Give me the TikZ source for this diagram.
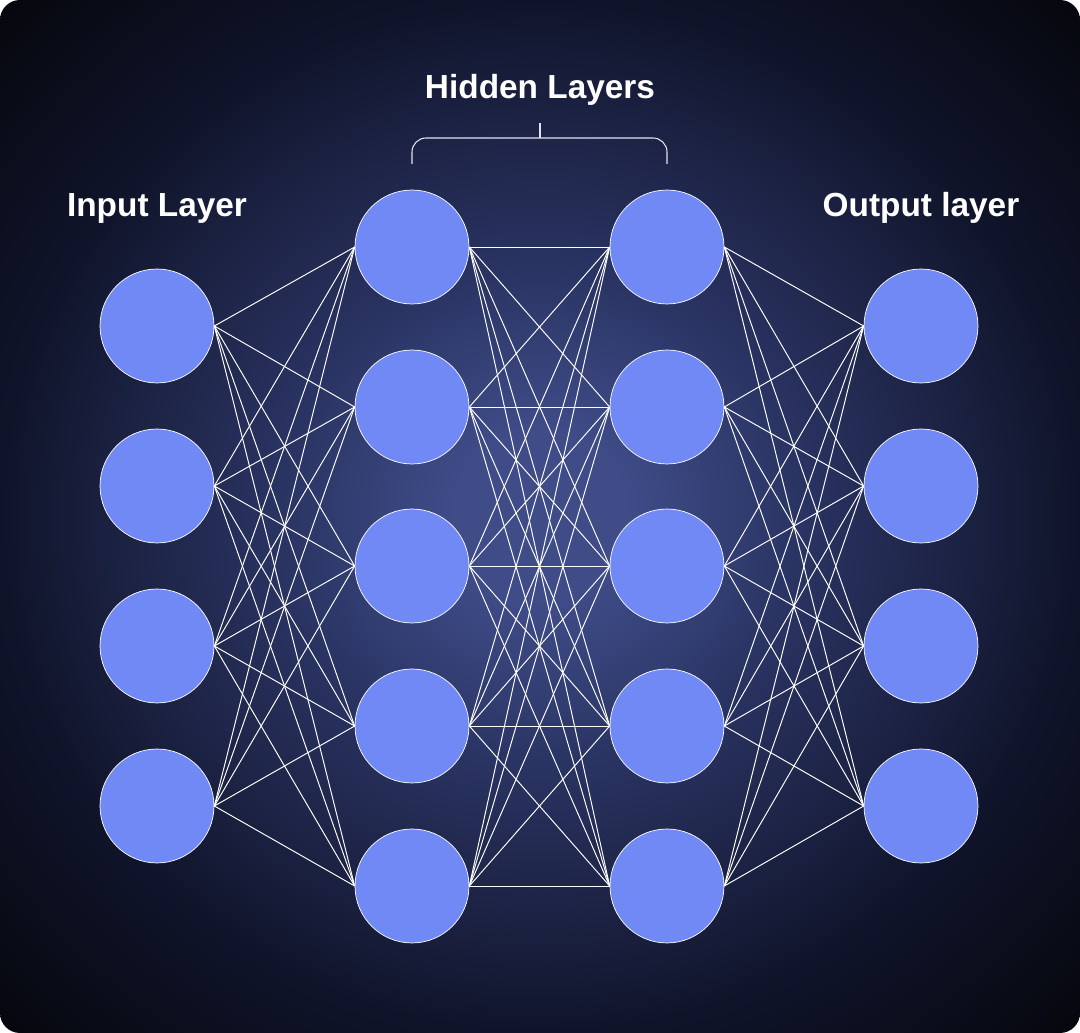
\documentclass[tikz,border=0pt]{standalone}
\usepackage{fontspec}
\setmainfont{Liberation Sans}
\definecolor{bgin}{HTML}{3F4C88}
\definecolor{bgmid}{HTML}{2A3463}
\definecolor{bgedge}{HTML}{10142A}
\definecolor{bgout}{HTML}{05060B}
\definecolor{neuron}{HTML}{7189F5}
\pgfdeclareradialshading{bgglow}{\pgfpoint{0bp}{0bp}}{color(0bp)=(bgin); color(4bp)=(bgin); color(12bp)=(bgmid); color(25bp)=(bgedge); color(36bp)=(bgout); color(50bp)=(bgout)}
\begin{document}
\begin{tikzpicture}[x=0.02cm, y=-0.02cm,
    every node/.style={draw=white, line width=0.4pt, circle, fill=neuron, minimum size=2.28cm, inner sep=0pt},
    title/.style={draw=none, fill=none, rectangle, minimum size=0pt, text=white, font=\bfseries\fontsize{19}{22}\selectfont},
    link/.style={draw=white, line width=0.55pt}]
  \useasboundingbox (0,0) rectangle (1080,1033);
  % background
  \shade[shading=bgglow, rounded corners=0.4cm] (0,0) rectangle (1080,1033);

  % Input layer
  \node (i1) at (157, 326) {};
  \node (i2) at (157, 486) {};
  \node (i3) at (157, 646) {};
  \node (i4) at (157, 806) {};

  % First hidden layer
  \node (a1) at (412, 247) {};
  \node (a2) at (412, 407) {};
  \node (a3) at (412, 566) {};
  \node (a4) at (412, 726) {};
  \node (a5) at (412, 886) {};

  % Second hidden layer
  \node (b1) at (667, 247) {};
  \node (b2) at (667, 407) {};
  \node (b3) at (667, 566) {};
  \node (b4) at (667, 726) {};
  \node (b5) at (667, 886) {};

  % Output layer
  \node (o1) at (921, 326) {};
  \node (o2) at (921, 486) {};
  \node (o3) at (921, 646) {};
  \node (o4) at (921, 806) {};

  % connections
  \foreach \i in {1,...,4}
    \foreach \j in {1,...,5}
      \draw[link] (i\i.east) -- (a\j.west);
  \foreach \i in {1,...,5}
    \foreach \j in {1,...,5}
      \draw[link] (a\i.east) -- (b\j.west);
  \foreach \i in {1,...,5}
    \foreach \j in {1,...,4}
      \draw[link] (b\i.east) -- (o\j.west);

  % titles
  \node[title] (tin) at (157, 208) {Input Layer};
  \node[title] (thid) at (540, 90) {Hidden Layers};
  \node[title] (tout) at (921, 208) {Output layer};

  % bracket over the hidden layers
  \draw[white!85!bgin, line width=0.6pt, rounded corners=0.28cm] (412, 164) -- (412, 138) -- (667, 138) -- (667, 164);
  \draw[white!85!bgin, line width=0.6pt] (540, 138) -- (540, 123);
\end{tikzpicture}
\end{document}
